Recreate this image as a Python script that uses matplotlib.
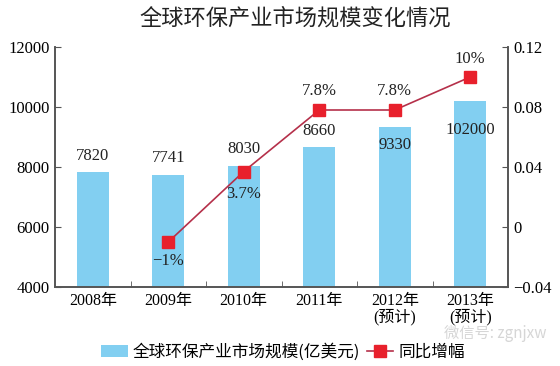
import matplotlib
matplotlib.use("Agg")
import matplotlib.pyplot as plt
from matplotlib.ticker import FixedLocator
from matplotlib.patches import Patch
from matplotlib.lines import Line2D

plt.rcParams['font.family'] = ['Liberation Serif', 'Noto Sans CJK SC', 'DejaVu Sans']

years = ["2008年", "2009年", "2010年", "2011年", "2012年\n(预计)", "2013年\n(预计)"]
market = [7820, 7741, 8030, 8660, 9330, 10200]
market_labels = ["7820", "7741", "8030", "8660", "9330", "102000"]
growth_x = [1, 2, 3, 4, 5]
growth = [-0.01, 0.037, 0.078, 0.078, 0.10]
growth_labels = ["\u22121%", "3.7%", "7.8%", "7.8%", "10%"]
bar_name = "全球环保产业市场规模(亿美元)"
line_name = "同比增幅"
title = "全球环保产业市场规模变化情况"
watermark = "微信号: zgnjxw"

bar_color = "#82CFF1"
line_color = "#B5304A"
marker_color = "#E8202C"
spine_color = "#555555"

fig = plt.figure(figsize=(5.6, 3.66), dpi=100)
ax = fig.add_axes([55/560, 1-287/366, (508-55)/560, (287-47)/366])
ax2 = ax.twinx()

x = list(range(len(years)))
ax.bar(x, market, width=0.43, color=bar_color, zorder=2)
ax.set_ylim(4000, 12000)
ax.set_xlim(-0.5, 5.5)
ax.set_yticks([4000, 6000, 8000, 10000, 12000])
ax.set_xticks(x)
ax.set_xticklabels(years, fontsize=11.5, linespacing=1.0)
ax.xaxis.set_minor_locator(FixedLocator([i + 0.5 for i in range(5)]))
ax.tick_params(axis='x', which='major', length=0, pad=4)
ax.tick_params(axis='x', which='minor', direction='in', length=4, color=spine_color)
ax.tick_params(axis='y', direction='in', length=4, labelsize=12, color=spine_color, pad=4)

ax2.plot(growth_x, growth, color=line_color, lw=1.2, marker='s', markersize=8,
         markerfacecolor=marker_color, markeredgecolor=marker_color, zorder=3)
ax2.set_ylim(-0.04, 0.12)
ax2.set_yticks([-0.04, 0, 0.04, 0.08, 0.12])
ax2.set_yticklabels(["\u22120.04", "0", "0.04", "0.08", "0.12"])
ax2.tick_params(axis='y', direction='in', length=4, labelsize=12, color=spine_color, pad=4)

for a in (ax, ax2):
    a.spines['top'].set_visible(False)
    for s in ('left', 'right', 'bottom'):
        a.spines[s].set_color(spine_color)
        a.spines[s].set_linewidth(1.2)

bar_offsets = [12, 12, 12, 12, -13, -21]
for xi, v, lab, off in zip(x, market, market_labels, bar_offsets):
    ax.annotate(lab, (xi, v), xytext=(0, off), textcoords='offset points',
                ha='center', va='center', fontsize=12, color='#222222', zorder=4)

growth_offsets = [-14, -16, 14, 14, 13]
for xi, v, lab, off in zip(growth_x, growth, growth_labels, growth_offsets):
    ax2.annotate(lab, (xi, v), xytext=(0, off), textcoords='offset points',
                 ha='center', va='center', fontsize=12, color='#222222', zorder=4)

fig.text(0.527, 0.95, title, ha='center', va='center', fontsize=16,
         family=['Noto Sans CJK SC'], fontweight='medium', color='#222222')

handles = [Patch(facecolor=bar_color, edgecolor='none'),
           Line2D([0], [0], color=line_color, lw=1.2, marker='s', markersize=8,
                  markerfacecolor=marker_color, markeredgecolor=marker_color)]
fig.legend(handles, [bar_name, line_name], loc='center', bbox_to_anchor=(0.505, 0.038),
           ncol=2, frameon=False, handlelength=1.6, handletextpad=0.3,
           columnspacing=0.4, prop={'family': ['Noto Sans CJK SC'], 'size': 12})

fig.text(0.975, 0.088, watermark, ha='right', va='center', fontsize=11,
         family=['Noto Sans CJK SC'], color='#cccccc', alpha=0.8)

fig.savefig("out.png", dpi=100)
